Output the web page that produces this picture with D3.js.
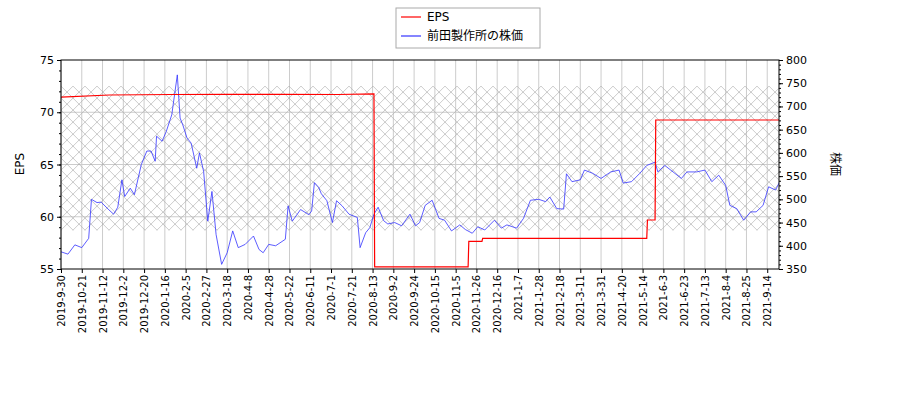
<!DOCTYPE html>
<html><head><meta charset="utf-8">
<script src="https://cdn.jsdelivr.net/npm/d3@7"></script>
<style>body{margin:0;background:#fff}text{font-family:"DejaVu Sans",sans-serif}</style>
</head><body><svg id="c" width="900" height="400"></svg>
<script>
// x positions are trading-day indices from 2019-9-30
const tickLabels = ['2019-9-30','2019-10-21','2019-11-12','2019-12-2','2019-12-20','2020-1-16','2020-2-5','2020-2-27','2020-3-18','2020-4-8','2020-4-28','2020-5-22','2020-6-11','2020-7-1','2020-7-21','2020-8-13','2020-9-2','2020-9-24','2020-10-15','2020-11-5','2020-11-26','2020-12-16','2021-1-7','2021-1-28','2021-2-18','2021-3-11','2021-3-31','2021-4-20','2021-5-14','2021-6-3','2021-6-23','2021-7-13','2021-8-4','2021-8-25','2021-9-14']
const priceIdx = [0,5,10,15,20,22,26,29,34,38,41,44,46,50,53,58,62,65,68,69,73,76,80,84,86,88,91,94,98,100,103,106,109,112,116,120,124,128,133,139,143,146,150,155,162,164,167,173,179,181,183,186,188,192,196,199,203,208,214,216,220,223,226,229,233,236,241,246,252,256,
  259,263,268,273,277,282,288,292,297,301,306,313,318,322,329,334,339,345,350,353,358,363,365,369,375,378,384,390,397,403,406,412,418,423,429,431,436,442,448,452,459,465,470,475,480,483,488,493,498,502,507,511,516,519]
const priceVal = [387,382,402,396,416,500,493,494,479,468,483,542,506,524,510,575,604,604,582,636,625,646,682,768,675,660,632,621,567,600,560,453,517,424,360,385,432,396,403,421,392,385,403,400,414,486,453,478,467,475,536,526,512,497,450,497,486,468,461,396,428,439,468,483,454,447,450,443,468,443,
  450,487,498,459,455,432,445,435,427,441,434,455,438,445,438,459,498,500,495,505,480,479,555,538,542,563,556,545,559,563,535,538,556,573,580,559,573,559,545,559,559,563,538,552,530,487,480,455,473,473,487,527,520,538]
const epsIdx = [0,35,80,120,160,200,226,226.5,294,294.5,304,304.5,423,423.5,429,429.5,518.5]
const epsVal = [71.45,71.65,71.7,71.72,71.72,71.7,71.75,55.2,55.2,57.65,57.65,57.94,57.94,59.69,59.69,69.26,69.26]
const bandLo = 58.7, bandHi = 72.5

const svg = d3.select('#c')
const L = 61, R = 779, T = 60, B = 269
const x = d3.scaleLinear().domain([0, 518.5]).range([L, R])
const yL = d3.scaleLinear().domain([55, 75]).range([B, T])
const yR = d3.scaleLinear().domain([350, 800]).range([B, T])

const defs = svg.append('defs')
const pat = defs.append('pattern').attr('id', 'hatch').attr('patternUnits', 'userSpaceOnUse')
  .attr('width', 12).attr('height', 12).attr('x', L).attr('y', yL(bandHi))
pat.append('path').attr('d', 'M0,0L12,12M12,0L0,12').attr('stroke', '#a8a8a8').attr('stroke-width', 0.6)
defs.append('clipPath').attr('id', 'clip').append('rect').attr('x', L).attr('y', T).attr('width', R - L).attr('height', B - T)

const g = svg.append('g')
// grid
g.selectAll('.gx').data(tickLabels).join('line')
  .attr('x1', (d, i) => x(i * 15)).attr('x2', (d, i) => x(i * 15))
  .attr('y1', T).attr('y2', B).attr('stroke', '#cccccc')
g.selectAll('.gy').data([60, 65, 70]).join('line')
  .attr('x1', L).attr('x2', R).attr('y1', d => yL(d)).attr('y2', d => yL(d)).attr('stroke', '#cccccc')

g.append('rect').attr('x', L).attr('width', R - L).attr('y', yL(bandHi)).attr('height', yL(bandLo) - yL(bandHi))
  .attr('fill', 'url(#hatch)')

const plot = g.append('g').attr('clip-path', 'url(#clip)')
plot.append('path').datum(priceIdx.map((d, i) => [d, priceVal[i]]))
  .attr('fill', 'none').attr('stroke', '#3333ff').attr('stroke-width', 0.8)
  .attr('d', d3.line().x(d => x(d[0])).y(d => yR(d[1])))
plot.append('path').datum(epsIdx.map((d, i) => [d, epsVal[i]]))
  .attr('fill', 'none').attr('stroke', '#ff0000').attr('stroke-width', 1.2)
  .attr('d', d3.line().x(d => x(d[0])).y(d => yL(d[1])))

g.append('rect').attr('x', L).attr('y', T).attr('width', R - L).attr('height', B - T)
  .attr('fill', 'none').attr('stroke', '#000')

// axes
const ax = svg.append('g').attr('transform', `translate(0,${B})`)
  .call(d3.axisBottom(x).tickValues(tickLabels.map((d, i) => i * 15)).tickFormat((d, i) => tickLabels[i]).tickSizeOuter(0).tickSize(4))
ax.selectAll('text').attr('transform', 'rotate(-90)').attr('text-anchor', 'end')
  .attr('x', -6).attr('y', 0).attr('dy', '0.35em').style('font-size', '10px')
const al = svg.append('g').attr('transform', `translate(${L},0)`)
  .call(d3.axisLeft(yL).tickValues([55, 60, 65, 70, 75]).tickSizeOuter(0).tickSize(4))
al.selectAll('text').style('font-size', '11px')
svg.append('g').attr('transform', `translate(${L},0)`)
  .call(d3.axisLeft(yL).tickValues(d3.range(55, 75, 1)).tickFormat('').tickSize(2).tickSizeOuter(0))
const ar = svg.append('g').attr('transform', `translate(${R},0)`)
  .call(d3.axisRight(yR).tickValues(d3.range(350, 801, 50)).tickSizeOuter(0).tickSize(4))
ar.selectAll('text').style('font-size', '11px')
svg.append('g').attr('transform', `translate(${R},0)`)
  .call(d3.axisRight(yR).tickValues(d3.range(350, 800, 10)).tickFormat('').tickSize(2).tickSizeOuter(0))
svg.selectAll('.domain').remove()

svg.append('text').attr('transform', 'translate(24,164) rotate(-90)').attr('text-anchor', 'middle')
  .style('font-size', '12px').text('EPS')
svg.append('text').attr('transform', 'translate(831,164) rotate(90)').attr('text-anchor', 'middle')
  .style('font-size', '12px').style('font-family', '"Noto Sans CJK JP"').text('株価')

// legend
const lg = svg.append('g').attr('transform', 'translate(396,8)')
lg.append('rect').attr('width', 144).attr('height', 40).attr('fill', '#fff').attr('stroke', '#aaa')
const items = [['EPS', '#ff0000'], ['前田製作所の株価', '#3333ff']]
items.forEach((d, i) => {
  lg.append('line').attr('x1', 5).attr('x2', 25).attr('y1', 9 + i * 19).attr('y2', 9 + i * 19).attr('stroke', d[1]).attr('stroke-width', 1.2)
  lg.append('text').attr('x', 31).attr('y', 13 + i * 19).style('font-size', '12px')
    .style('font-family', '"DejaVu Sans","Noto Sans CJK JP"').text(d[0])
})
</script></body></html>
